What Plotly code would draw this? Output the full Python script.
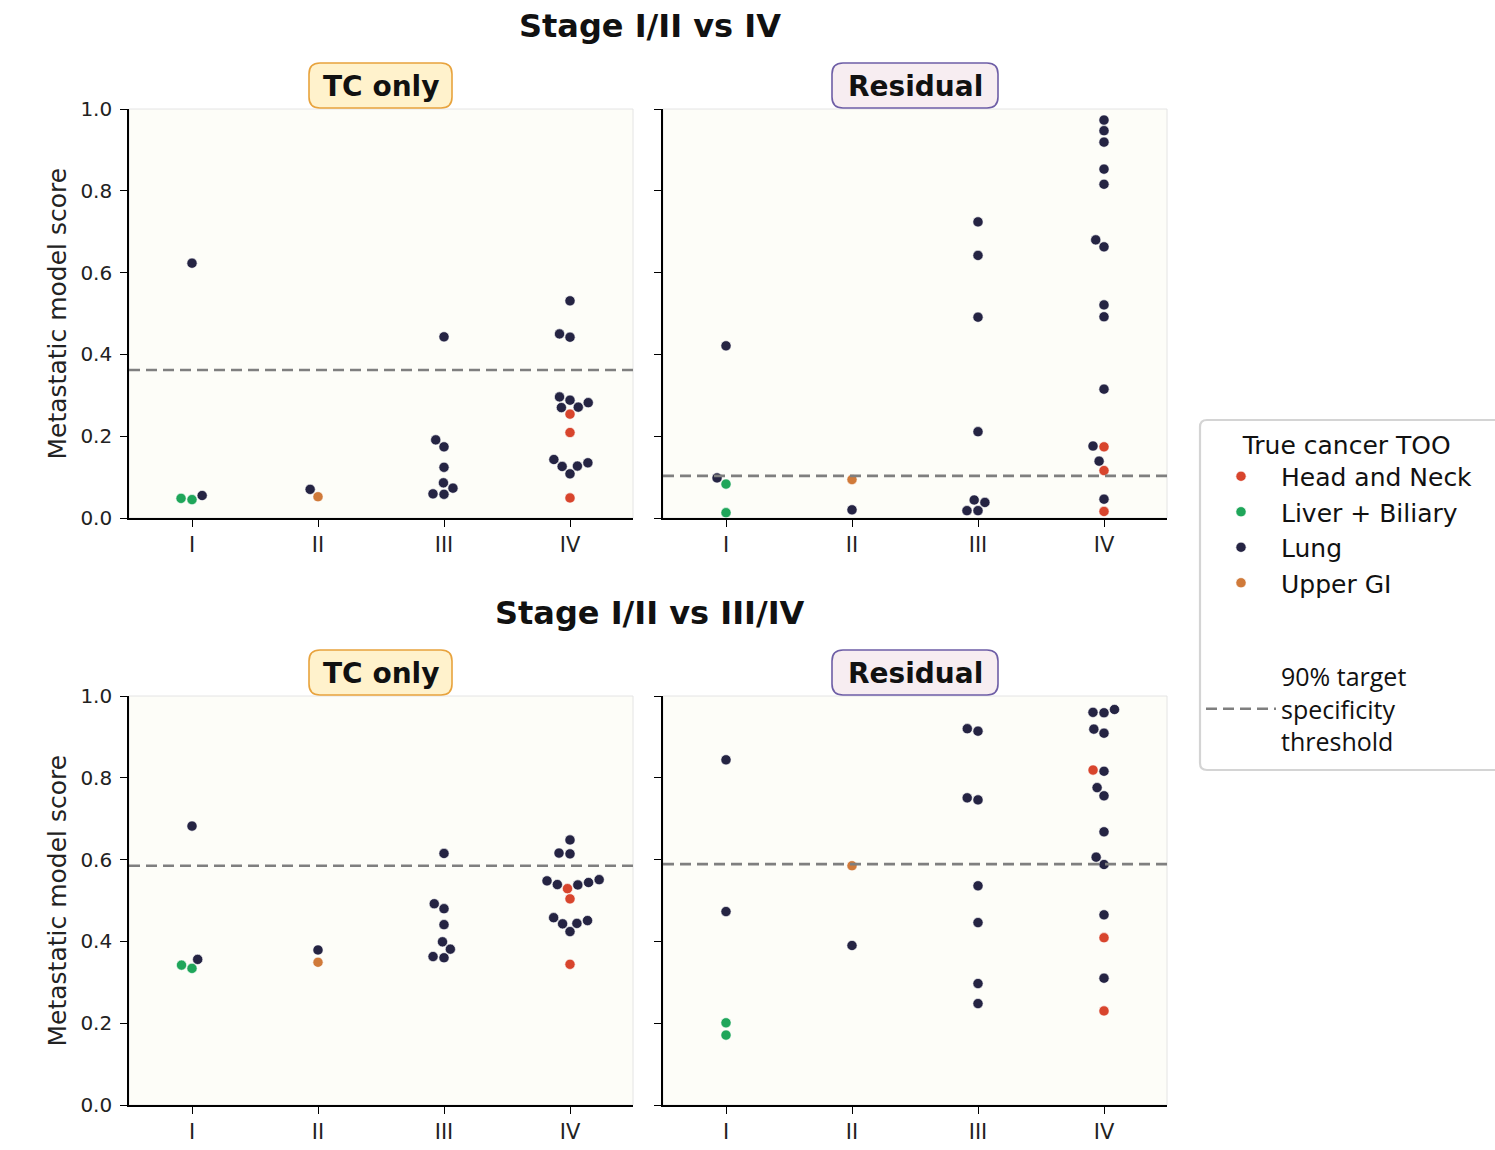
import numpy as np
import plotly.graph_objects as go

W, H = 1495, 1150

# ---------------- data ----------------
stage_labels = ["I", "II", "III", "IV"]
too_codes = ["HN", "LB", "LU", "UG"]
too_names = ["Head and Neck", "Liver + Biliary", "Lung", "Upper GI"]
too_colors = ["#d8452d", "#1fa65a", "#252443", "#d07a3a"]

# Stage I/II vs IV - TC only
a_stage = ["I"] * 4 + ["II"] * 2 + ["III"] * 8 + ["IV"] * 16
a_too = ["LU", "LB", "LB", "LU",
         "LU", "UG",
         "LU", "LU", "LU", "LU", "LU", "LU", "LU", "LU",
         "LU", "LU", "LU", "LU", "LU", "LU", "LU", "LU", "HN", "HN",
         "LU", "LU", "LU", "LU", "LU", "HN"]
a_score = [0.623, 0.048, 0.045, 0.055,
           0.070, 0.052,
           0.443, 0.191, 0.174, 0.124, 0.086, 0.073, 0.059, 0.058,
           0.531, 0.450, 0.442, 0.296, 0.288, 0.282, 0.271, 0.270, 0.254, 0.209,
           0.143, 0.135, 0.127, 0.126, 0.108, 0.049]

# Stage I/II vs IV - Residual
b_stage = ["I"] * 4 + ["II"] * 2 + ["III"] * 8 + ["IV"] * 16
b_too = ["LU", "LU", "LB", "LB",
         "UG", "LU",
         "LU", "LU", "LU", "LU", "LU", "LU", "LU", "LU",
         "LU", "LU", "LU", "LU", "LU", "LU", "LU", "LU", "LU", "LU", "LU",
         "HN", "LU", "HN", "LU", "HN"]
b_score = [0.421, 0.098, 0.083, 0.013,
           0.094, 0.020,
           0.724, 0.642, 0.491, 0.211, 0.044, 0.038, 0.018, 0.018,
           0.973, 0.947, 0.919, 0.853, 0.816, 0.680, 0.663, 0.521, 0.492, 0.315, 0.176,
           0.174, 0.139, 0.116, 0.046, 0.016]

# Stage I/II vs III/IV - TC only
c_stage = ["I"] * 4 + ["II"] * 2 + ["III"] * 8 + ["IV"] * 16
c_too = ["LU", "LB", "LB", "LU",
         "LU", "UG",
         "LU", "LU", "LU", "LU", "LU", "LU", "LU", "LU",
         "LU", "LU", "LU", "LU", "LU", "LU", "LU", "LU", "HN", "HN",
         "LU", "LU", "LU", "LU", "LU", "HN"]
c_score = [0.682, 0.342, 0.334, 0.356,
           0.379, 0.349,
           0.615, 0.492, 0.480, 0.441, 0.399, 0.381, 0.363, 0.360,
           0.648, 0.616, 0.614, 0.551, 0.548, 0.544, 0.539, 0.538, 0.529, 0.504,
           0.458, 0.451, 0.444, 0.443, 0.424, 0.344]

# Stage I/II vs III/IV - Residual
d_stage = ["I"] * 4 + ["II"] * 2 + ["III"] * 8 + ["IV"] * 16
d_too = ["LU", "LU", "LB", "LB",
         "UG", "LU",
         "LU", "LU", "LU", "LU", "LU", "LU", "LU", "LU",
         "LU", "LU", "LU", "LU", "LU", "HN", "LU", "LU", "LU", "LU", "LU", "LU",
         "LU", "HN", "LU", "HN"]
d_score = [0.844, 0.473, 0.201, 0.171,
           0.585, 0.390,
           0.920, 0.914, 0.751, 0.746, 0.536, 0.446, 0.297, 0.248,
           0.967, 0.960, 0.959, 0.919, 0.909, 0.819, 0.816, 0.776, 0.756, 0.668, 0.606, 0.588,
           0.465, 0.409, 0.310, 0.230]

thresholds = [0.362, 0.103, 0.585, 0.589]

row_titles = ["Stage I/II vs IV", "Stage I/II vs III/IV"]
col_titles = ["TC only", "Residual"]
y_title = "Metastatic model score"
legend_title = "True cancer TOO"
threshold_label = ["90% target", "specificity", "threshold"]

# ---------------- layout geometry (pixels) ----------------
col_px = [(129, 633), (663, 1167)]
row_px = [(109, 518), (696, 1105)]
MARKER_D = 10.5


def px2paper_x(px):
    return px / W


def px2paper_y(py):
    return 1 - py / H


def beeswarm(ypx, d):
    ypx = np.asarray(ypx, dtype=float)
    order = np.argsort(ypx, kind="stable")
    placed = []
    xs = np.zeros(len(ypx))
    for idx in order:
        y = ypx[idx]
        neighbors = [p for p in reversed(placed) if abs(y - p[1]) < d]
        cands = [0.0]
        left_first = True
        for (xj, yj) in neighbors:
            dy = y - yj
            dx = np.sqrt(max(d * d - dy * dy, 0.0)) * 1.05
            pair = [xj - dx, xj + dx] if left_first else [xj + dx, xj - dx]
            cands.extend(pair)
            left_first = not left_first
        cands = sorted(cands, key=abs)
        chosen = cands[-1]
        for c in cands:
            if all((c - xj) ** 2 + (y - yj) ** 2 >= d * d - 1e-9 for xj, yj in neighbors):
                chosen = c
                break
        placed.append((chosen, y))
        xs[idx] = chosen
    return xs


fig = go.Figure()

panels = [
    (a_stage, a_too, a_score, 0, 0),
    (b_stage, b_too, b_score, 0, 1),
    (c_stage, c_too, c_score, 1, 0),
    (d_stage, d_too, d_score, 1, 1),
]

axis_ids = {(0, 0): ("x", "y"), (0, 1): ("x2", "y2"), (1, 0): ("x3", "y3"), (1, 1): ("x4", "y4")}

for pi, (stg, too, score, r, c) in enumerate(panels):
    xa, ya = axis_ids[(r, c)]
    x_ppu = (col_px[c][1] - col_px[c][0]) / 4.0
    y_ppu = (row_px[r][1] - row_px[r][0]) / 1.0
    stg = np.array(stg)
    too = np.array(too)
    score = np.array(score, dtype=float)
    xpos = np.zeros(len(score))
    for si, s in enumerate(stage_labels):
        m = stg == s
        offs = beeswarm(score[m] * y_ppu, MARKER_D)
        xpos[m] = si + offs / x_ppu
    for ti, code in enumerate(too_codes):
        m = too == code
        if not m.any():
            continue
        fig.add_trace(go.Scatter(
            x=xpos[m], y=score[m], mode="markers",
            marker=dict(size=10.2, color=too_colors[ti], line=dict(color="white", width=0.6)),
            name=too_names[ti], legendgroup="too", legendrank=ti + 1,
            showlegend=(pi == 0), xaxis=xa, yaxis=ya, cliponaxis=False,
        ))
    fig.add_trace(go.Scatter(
        x=[-0.5, 3.5], y=[thresholds[pi], thresholds[pi]], mode="lines",
        line=dict(color="#7f7f7f", width=2.6, dash="11px,6px"),
        name="<br>".join(f"<span style='font-family:Open Sans'>{t}</span>"
                         for t in threshold_label),
        legendgroup="thr", legendrank=10,
        showlegend=(pi == 0), xaxis=xa, yaxis=ya, hoverinfo="skip",
    ))

layout_axes = {}
for (r, c), (xa, ya) in axis_ids.items():
    xkey = "xaxis" if xa == "x" else "xaxis" + xa[1:]
    ykey = "yaxis" if ya == "y" else "yaxis" + ya[1:]
    layout_axes[xkey] = dict(
        domain=[px2paper_x(col_px[c][0]), px2paper_x(col_px[c][1])],
        range=[-0.5, 3.5], tickvals=[0, 1, 2, 3], ticktext=stage_labels,
        anchor=ya, showgrid=False, zeroline=False, automargin=False,
        showline=True, linecolor="black", linewidth=1.6,
        ticks="outside", ticklen=7, tickwidth=1.4, tickcolor="black",
        tickfont=dict(family="DejaVu Sans", size=21, color="#222"),
        ticklabelstandoff=0, fixedrange=True,
    )
    layout_axes[ykey] = dict(
        domain=[px2paper_y(row_px[r][1]), px2paper_y(row_px[r][0])],
        range=[0, 1], tickvals=[0, 0.2, 0.4, 0.6, 0.8, 1.0],
        tickformat=".1f", showticklabels=(c == 0),
        anchor=xa, showgrid=False, zeroline=False, automargin=False,
        showline=True, linecolor="black", linewidth=1.6,
        ticks="outside", ticklen=7, tickwidth=1.4, tickcolor="black",
        tickfont=dict(family="DejaVu Sans", size=20, color="#222"),
        ticklabelstandoff=4, fixedrange=True,
    )

shapes = []
annotations = []


def rounded_path(x0, y0, x1, y1, rad):
    def P(x, y):
        return f"{px2paper_x(x):.6f},{px2paper_y(y):.6f}"
    return (f"M {P(x0 + rad, y0)} L {P(x1 - rad, y0)} Q {P(x1, y0)} {P(x1, y0 + rad)} "
            f"L {P(x1, y1 - rad)} Q {P(x1, y1)} {P(x1 - rad, y1)} "
            f"L {P(x0 + rad, y1)} Q {P(x0, y1)} {P(x0, y1 - rad)} "
            f"L {P(x0, y0 + rad)} Q {P(x0, y0)} {P(x0 + rad, y0)} Z")


box_styles = [("#fff2cc", "#e8a33d"), ("#f7edf1", "#6e5ea6")]
box_px = [(309, 452), (832, 998)]
box_top = [63, 650]

for (r, c), (xa, ya) in axis_ids.items():
    shapes.append(dict(type="rect", xref=f"{xa} domain", yref=f"{ya} domain",
                       x0=0, x1=1, y0=0, y1=1, line=dict(color="#e4e4e4", width=1),
                       layer="below"))
    bx0, bx1 = box_px[c]
    by0 = box_top[r]
    by1 = by0 + 45
    fill, border = box_styles[c]
    shapes.append(dict(type="path", xref="paper", yref="paper",
                       path=rounded_path(bx0, by0, bx1, by1, 11),
                       fillcolor=fill, line=dict(color=border, width=1.6), layer="above"))
    annotations.append(dict(text=f"<b>{col_titles[c]}</b>", xref="paper", yref="paper",
                            x=px2paper_x((bx0 + bx1) / 2), y=px2paper_y((by0 + by1) / 2 + 1),
                            xanchor="center", yanchor="middle", showarrow=False,
                            font=dict(family="DejaVu Sans", size=28, color="#111")))

# legend frame (rounded, extends past the right edge)
shapes.append(dict(type="path", xref="paper", yref="paper",
                   path=rounded_path(1200, 420, 1530, 770, 7),
                   fillcolor="white", line=dict(color="#d4d4d4", width=2.2), layer="above"))

for r in range(2):
    annotations.append(dict(text=f"<b>{row_titles[r]}</b>", xref="paper", yref="paper",
                            x=px2paper_x(650), y=px2paper_y([26, 613][r]),
                            xanchor="center", yanchor="middle", showarrow=False,
                            font=dict(family="DejaVu Sans", size=32, color="#111")))
    yc = (row_px[r][0] + row_px[r][1]) / 2
    annotations.append(dict(text=y_title, xref="paper", yref="paper",
                            x=px2paper_x(57), y=px2paper_y(yc), textangle=-90,
                            xanchor="center", yanchor="middle", showarrow=False,
                            font=dict(family="DejaVu Sans", size=25, color="#222")))

fig.update_layout(
    width=W, height=H,
    margin=dict(l=0, r=0, t=0, b=0),
    paper_bgcolor="white", plot_bgcolor="#fdfdf8",
    showlegend=True,
    legend=dict(
        x=px2paper_x(1201), y=px2paper_y(421), xanchor="left", yanchor="top",
        title=dict(text="&nbsp;" * 5 + legend_title,
                   font=dict(family="DejaVu Sans", size=25, color="#111")),
        font=dict(family="DejaVu Sans", size=25, color="#111"),
        bgcolor="rgba(0,0,0,0)", borderwidth=0,
        traceorder="grouped", tracegroupgap=58, groupclick="toggleitem",
        itemsizing="trace", itemwidth=70,
    ),
    shapes=shapes, annotations=annotations,
    **layout_axes,
)

fig.write_html("out.html", config={"displayModeBar": False},
               post_script="document.body.style.margin='0px';")
